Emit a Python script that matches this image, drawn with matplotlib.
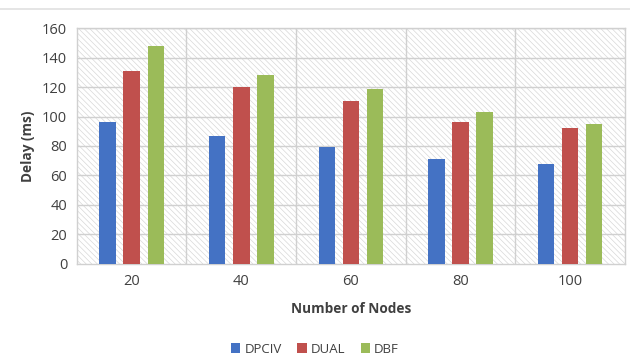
import numpy as np
import matplotlib.pyplot as plt
from matplotlib.patches import Rectangle

nodes = ["20", "40", "60", "80", "100"]
dpciv = [96, 87, 79.5, 71.5, 67.5]
dual = [131, 120, 110.5, 96, 92.5]
dbf = [148, 128, 118.5, 103, 95]

series = [("DPCIV", dpciv, "#4472C4"), ("DUAL", dual, "#C0504D"), ("DBF", dbf, "#9BBB59")]

plt.rcParams['font.family'] = ['Open Sans', 'DejaVu Sans']
plt.rcParams['hatch.linewidth'] = 0.5
plt.rcParams['hatch.color'] = '#d8d8d8'

fig = plt.figure(figsize=(6.3, 3.6), dpi=100)
ax = fig.add_axes([0.122, 0.267, 0.870, 0.655])

# hatched plot area background
bg = Rectangle((0, 0), 1, 1, transform=ax.transAxes, facecolor='white',
               edgecolor='#d8d8d8', hatch='\\\\\\\\\\\\', linewidth=0, zorder=0)
ax.add_patch(bg)

x = np.arange(len(nodes))
w = 0.15
off = 0.22
for i, (name, vals, col) in enumerate(series):
    ax.bar(x + (i - 1) * off, vals, width=w, color=col, label=name, zorder=3)

ax.set_xlim(-0.5, len(nodes) - 0.5)
ax.set_ylim(0, 160)
ax.set_yticks(range(0, 161, 20))
ax.set_xticks(x)
ax.set_xticklabels(nodes)

for yv in range(20, 161, 20):
    ax.axhline(yv, color='#d0d0d0', lw=1, zorder=1)
for xv in np.arange(0.5, len(nodes) - 0.5, 1):
    ax.axvline(xv, color='#d0d0d0', lw=1, zorder=1)

for s in ax.spines.values():
    s.set_color('#d0d0d0')
    s.set_linewidth(1)

ax.tick_params(length=0, labelsize=10.5, colors='#404040', pad=7)
ax.set_xlabel("Number of Nodes", fontsize=9.8, fontweight='bold', color='#404040', labelpad=10)
ax.set_ylabel("Delay (ms)", fontsize=9.8, fontweight='bold', color='#404040', labelpad=5)

fig.legend(loc='center', bbox_to_anchor=(0.5, 0.03), ncol=3, frameon=False,
           fontsize=9.5, handlelength=0.7, handleheight=0.7, handletextpad=0.3,
           columnspacing=1.2, labelcolor='#404040')

fig.add_artist(plt.Line2D([0, 1], [0.975, 0.975], color='#e0e0e0', lw=1.2,
                          transform=fig.transFigure))

fig.savefig("out.png", dpi=100)
